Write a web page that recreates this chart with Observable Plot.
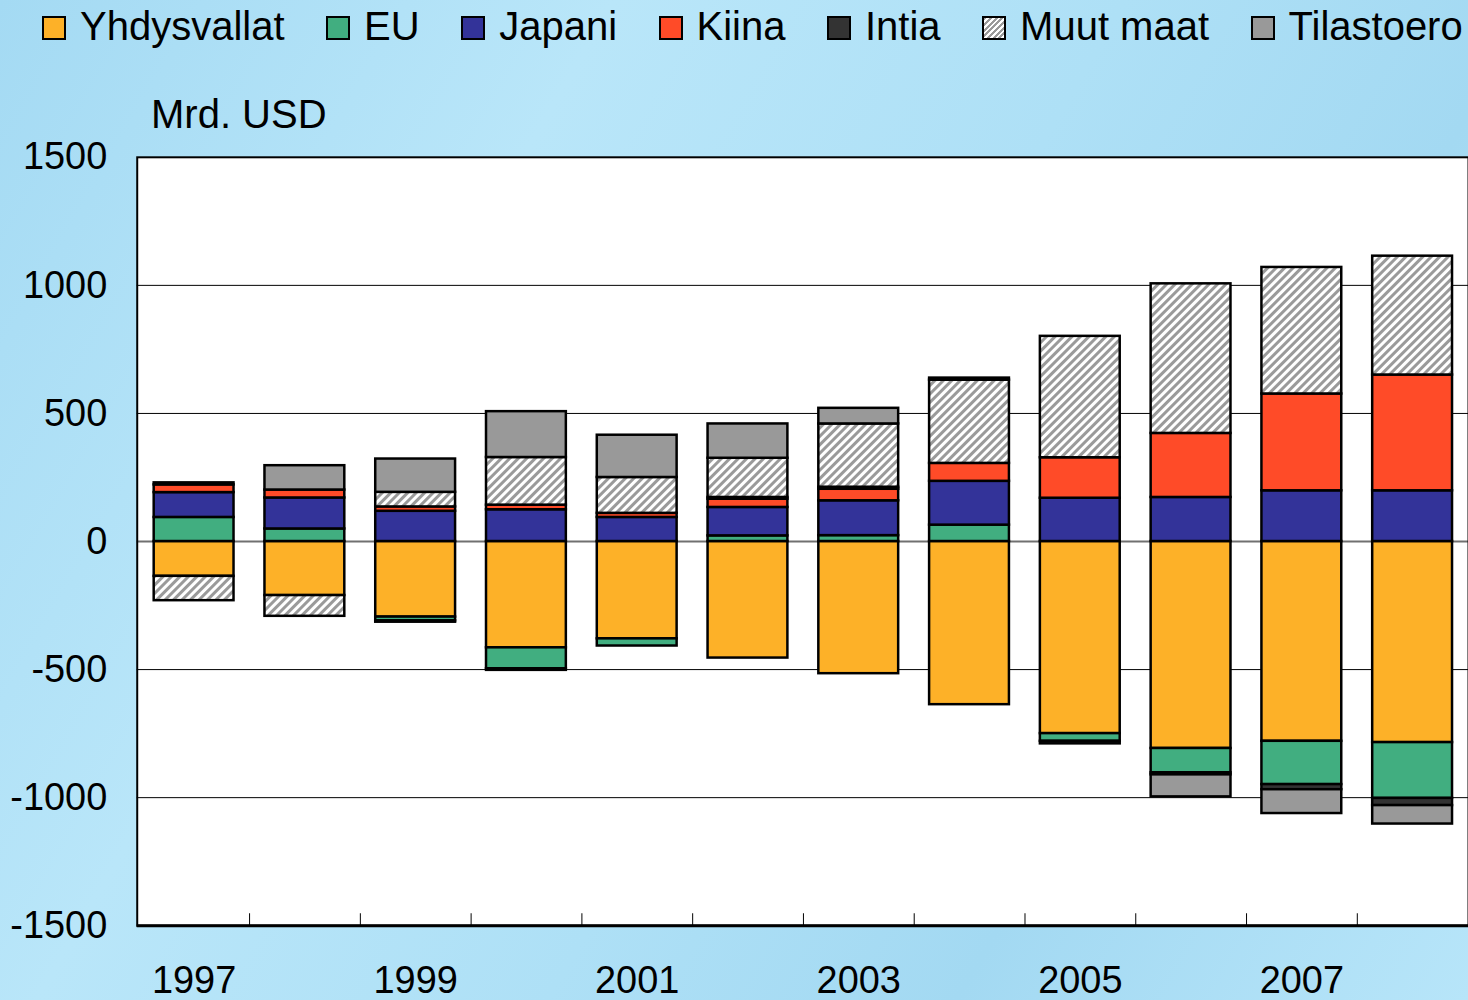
<!DOCTYPE html>
<html><head><meta charset="utf-8">
<script src="https://cdn.jsdelivr.net/npm/d3@7"></script>
<script src="https://cdn.jsdelivr.net/npm/@observablehq/plot@0.6"></script>
<style>
html,body{margin:0;padding:0;width:1468px;height:1000px;overflow:hidden;}
body{position:relative;font-family:"Liberation Sans",Arial,sans-serif;color:#000;
 background:linear-gradient(120deg,#a4daf3 0%,#b9e6f9 30%,#aee0f6 55%,#a3d9f2 75%,#b7e5f9 100%);}
#legend{position:relative;height:60px;display:flex;gap:41.5px;padding-left:42px;box-sizing:border-box;}
.item{display:flex;align-items:center;font-size:40px;line-height:40px;margin-top:6px;height:40px;white-space:nowrap;}
.sw{width:20px;height:20px;border:2px solid #000;margin-right:14px;position:relative;top:2px;}
#unit{position:absolute;left:151px;top:94px;font-size:40px;line-height:40px;}
#chart{position:absolute;left:0;top:60px;}
</style></head>
<body>
<div id="legend"></div>
<div id="chart"></div>
<div id="unit">Mrd. USD</div>
<script>
const years = ["1997","1998","1999","2000","2001","2002","2003","2004","2005","2006","2007","2008"];
const seriesNames = ["Yhdysvallat","EU","Japani","Kiina","Intia","Muut maat","Tilastoero"];
const yhdysvallat = [-136,-211,-295,-415,-380,-455,-516,-637,-750,-808,-780,-785];
const eu          = [94,49,-15,-82,-28,22,23,64,-30,-95,-169,-218];
const japani      = [97,121,118,124,94,111,136,171,169,172,198,198];
const kiina       = [30,31,17,18,16,32,45,70,158,250,378,452];
const intia       = [0,0,-5,-6,0,7,8,0,-10,-8,-20,-28];
const muutMaat    = [-95,-81,57,186,140,153,247,325,474,584,494,464];
const tilastoero  = [8,95,130,179,165,134,61,8,0,-86,-93,-72];
const yTicks = [-1500,-1000,-500,0,500,1000,1500];
const gridValues = [-1000,-500,500,1000];
const labelYears = ["1997","1999","2001","2003","2005","2007"];

const fills = ["#fdb128","#41ae80","#333399","#ff4b28","#333333","url(#hatch)","#999999"];
const swatchBg = ["#fdb128","#41ae80","#333399","#ff4b28","#333333",
  "repeating-linear-gradient(135deg,#9a9a9a 0 2px,#ffffff 2px 4px)","#999999"];

const seriesValues = [yhdysvallat,eu,japani,kiina,intia,muutMaat,tilastoero];
const data = [];
seriesNames.forEach((s,si)=>years.forEach((yr,i)=>{
  const v = seriesValues[si][i];
  if (v !== 0) data.push({year:yr, series:s, value:v});
}));

// legend
const lg = document.getElementById("legend");
seriesNames.forEach((s,i)=>{
  const it = document.createElement("div"); it.className="item";
  const sw = document.createElement("span"); sw.className="sw"; sw.style.background=swatchBg[i];
  const t = document.createElement("span"); t.textContent=s;
  it.appendChild(sw); it.appendChild(t); lg.appendChild(it);
});

const W = 1471, H = 940, ML = 137, MR = 0, MT = 97, MB = 73;
const step = (W-ML-MR)/years.length;
const chart = Plot.plot({
  width: W, height: H,
  marginTop: MT, marginBottom: MB, marginLeft: ML, marginRight: MR,
  style: {background:"transparent", fontFamily:"Liberation Sans, Arial, sans-serif", fontSize:"38px", color:"black", overflow:"visible"},
  x: {type:"band", domain: years, paddingInner: 0.28, paddingOuter: 0.14, label: null},
  y: {domain: [-1500,1500], label: null},
  color: {type:"ordinal", domain: seriesNames, range: fills},
  marks: [
    Plot.frame({fill:"white", stroke:"none"}),
    Plot.ruleY(gridValues, {stroke:"black", strokeWidth:1}),
    Plot.ruleY([0], {stroke:"#707070", strokeWidth:2}),
    Plot.barY(data, {x:"year", y:"value", fill:"series", order: seriesNames, stroke:"black", strokeWidth:2.5}),
    Plot.ruleX(years.slice(0,-1), {x:d=>d, dx: step/2, insetTop: H-MT-MB-12, stroke:"black", strokeWidth:1}),
    Plot.frame({stroke:"black", strokeWidth:2}),
    Plot.ruleY([-1500], {stroke:"black", strokeWidth:3}),
    Plot.axisY({ticks: yTicks, tickSize:0, tickPadding:30, tickFormat:d=>String(d), fontSize:38, label: null}),
    Plot.axisX({ticks: labelYears, tickSize:0, tickPadding:40, fontSize:38, label: null})
  ]
});
const svg = d3.select(chart);
const defs = svg.insert("defs", ":first-child");
const p = defs.append("pattern").attr("id","hatch").attr("patternUnits","userSpaceOnUse")
  .attr("width",6).attr("height",6).attr("patternTransform","rotate(45)");
p.append("rect").attr("width",6).attr("height",6).attr("fill","#ffffff");
p.append("rect").attr("width",3).attr("height",6).attr("fill","#9a9a9a");
document.getElementById("chart").appendChild(chart);
</script>
</body></html>
